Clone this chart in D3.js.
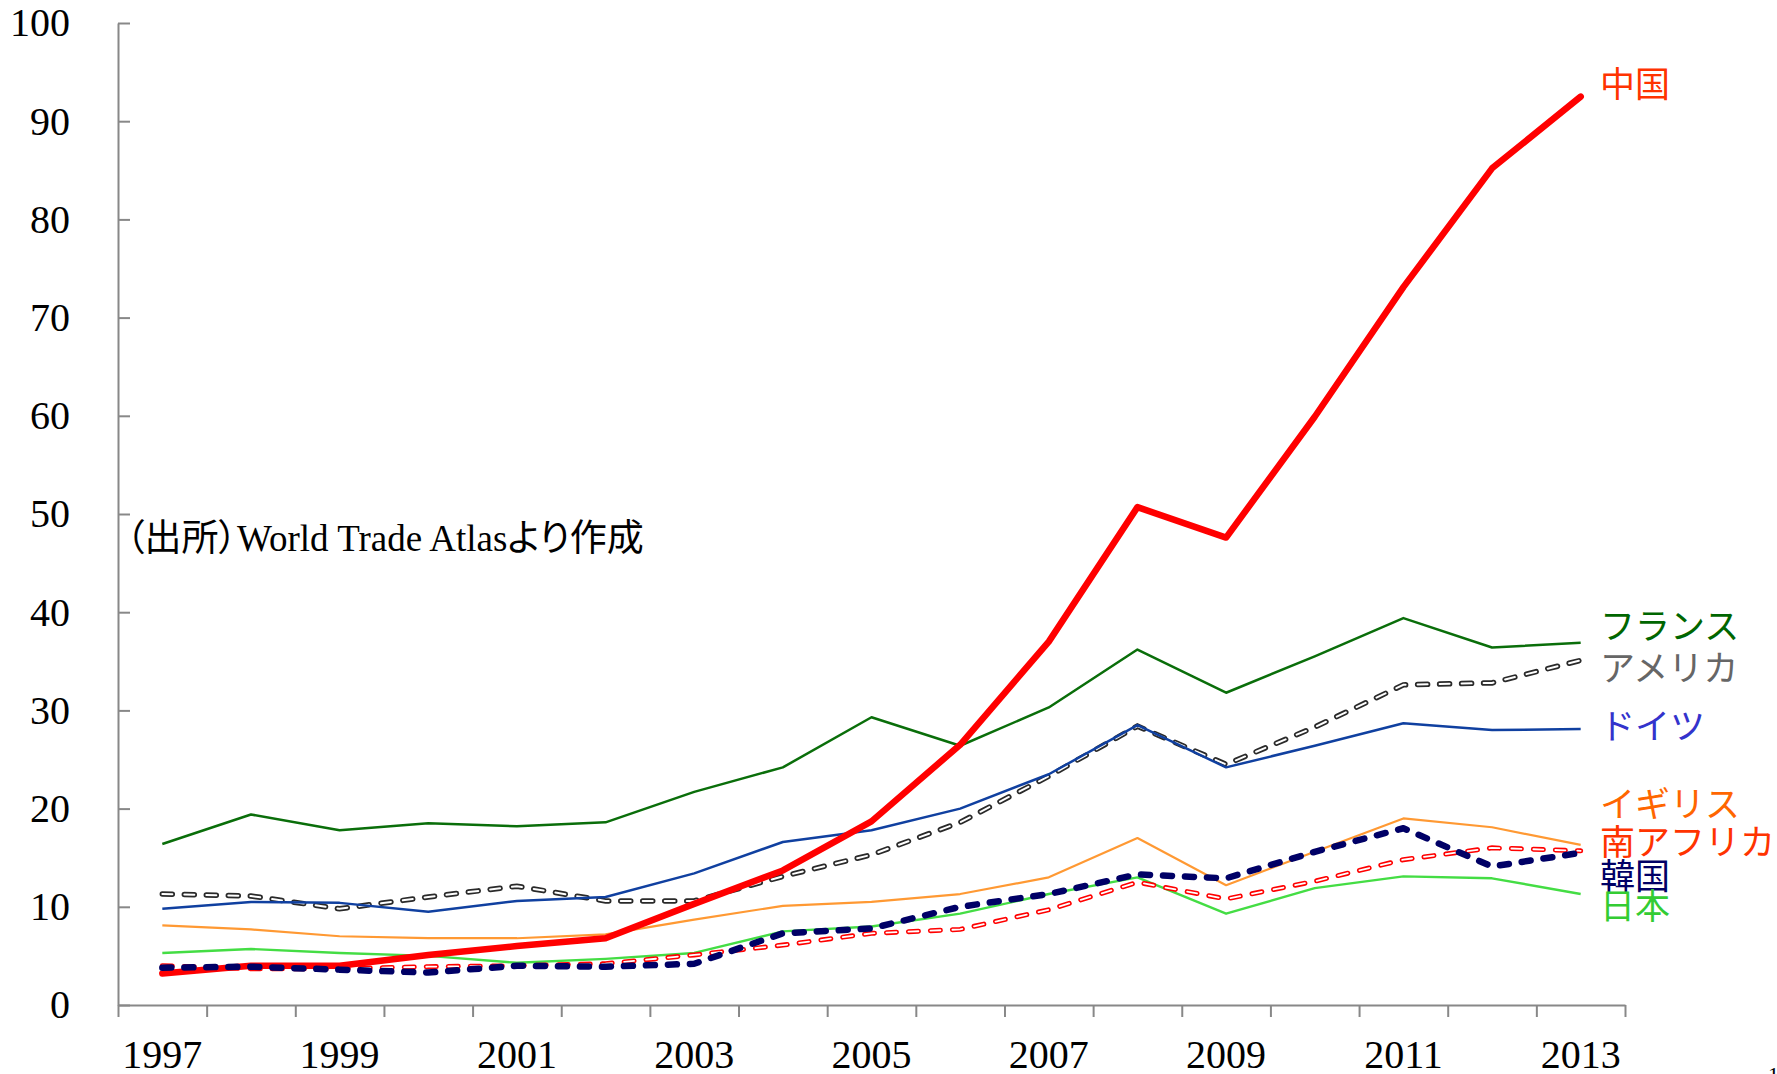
<!DOCTYPE html>
<html>
<head>
<meta charset="utf-8">
<script src="https://cdn.jsdelivr.net/npm/d3@7"></script>
<style>
  html, body { margin: 0; padding: 0; background: #fff; }
  svg { display: block; }
</style>
</head>
<body>
<div id="chart"></div>
<script>
const years = [1997, 1998, 1999, 2000, 2001, 2002, 2003, 2004, 2005, 2006, 2007, 2008, 2009, 2010, 2011, 2012, 2013];
const yearLabels = [1997, 1999, 2001, 2003, 2005, 2007, 2009, 2011, 2013];
const yTicks = [0, 10, 20, 30, 40, 50, 60, 70, 80, 90, 100];

const china   = [3.2, 4.0, 4.0, 5.1, 6.0, 6.8, 10.3, 13.7, 18.7, 26.5, 37.0, 50.7, 47.6, 59.9, 73.1, 85.2, 92.5];
const france  = [16.4, 19.4, 17.8, 18.5, 18.2, 18.6, 21.7, 24.2, 29.3, 26.4, 30.3, 36.2, 31.8, 35.5, 39.4, 36.4, 36.9];
const usa     = [11.3, 11.1, 9.8, 11.0, 12.1, 10.6, 10.6, 13.1, 15.3, 18.6, 23.3, 28.4, 24.5, 28.3, 32.6, 32.8, 35.1];
const germany = [9.8, 10.5, 10.4, 9.5, 10.6, 11.0, 13.4, 16.6, 17.8, 20.0, 23.5, 28.5, 24.2, 26.4, 28.7, 28.0, 28.1];
const uk      = [8.1, 7.7, 7.0, 6.8, 6.8, 7.2, 8.7, 10.1, 10.5, 11.3, 13.0, 17.0, 12.2, 15.6, 19.0, 18.1, 16.3];
const safrica = [4.0, 3.7, 3.7, 3.9, 4.0, 4.2, 5.1, 6.1, 7.3, 7.7, 9.7, 12.5, 10.8, 12.6, 14.8, 16.0, 15.7];
const korea   = [3.8, 3.9, 3.6, 3.3, 4.0, 3.9, 4.2, 7.3, 7.8, 10.0, 11.3, 13.3, 12.9, 15.6, 18.0, 14.1, 15.5];
const japan   = [5.3, 5.7, 5.3, 5.0, 4.3, 4.7, 5.3, 7.5, 8.0, 9.3, 11.3, 13.0, 9.3, 11.9, 13.1, 12.9, 11.3];

const labelNames  = ['中国', 'フランス', 'アメリカ', 'ドイツ', 'イギリス', '南アフリカ', '韓国', '日本'];
const labelValues = [93.7, 38.6, 34.3, 28.4, 20.4, 16.6, 13.1, 10.0];
const labelColors = ['#ff3300', '#006600', '#666666', '#3333cc', '#ff6600', '#ff3300', '#000066', '#33cc33'];

const sourceNote = '（出所）World Trade Atlasより作成';

const width = 1777, height = 1074;
const plotLeft = 118, plotRight = 1625, plotTop = 23, plotBottom = 1005;

const svg = d3.select('#chart')
  .append('svg')
  .attr('width', width)
  .attr('height', height);

const x = d3.scaleBand().domain(years).range([plotLeft, plotRight]);
const xEdge = d3.scaleLinear().domain([0, years.length]).range([plotLeft, plotRight]);
const y = d3.scaleLinear().domain([0, 100]).range([plotBottom, plotTop]);

// y axis, ticks pointing inward
const yAxis = svg.append('g')
  .attr('transform', `translate(${plotLeft},0)`)
  .call(d3.axisLeft(y).tickValues(yTicks).tickSize(-12).tickSizeOuter(0).tickPadding(48));
yAxis.select('.domain').attr('stroke', '#888').attr('stroke-width', 2);
yAxis.selectAll('.tick line').attr('stroke', '#888').attr('stroke-width', 2);
yAxis.selectAll('.tick text')
  .attr('font-family', '"Liberation Serif", serif')
  .attr('font-size', 40)
  .attr('fill', '#000');

// x axis: ticks between categories
const xTickAxis = svg.append('g')
  .attr('transform', `translate(0,${plotBottom})`)
  .call(d3.axisBottom(xEdge).tickValues(d3.range(years.length + 1)).tickSize(12).tickSizeOuter(0).tickFormat(''));
xTickAxis.select('.domain').attr('stroke', '#888').attr('stroke-width', 2);
xTickAxis.selectAll('.tick line').attr('stroke', '#888').attr('stroke-width', 2);

const xLabelAxis = svg.append('g')
  .attr('transform', `translate(0,${plotBottom})`)
  .call(d3.axisBottom(x).tickValues(yearLabels).tickSize(0).tickPadding(35));
xLabelAxis.select('.domain').remove();
xLabelAxis.selectAll('.tick text')
  .attr('font-family', '"Liberation Serif", serif')
  .attr('font-size', 40)
  .attr('fill', '#000');

const line = d3.line()
  .x((d, i) => x(years[i]) + x.bandwidth() / 2)
  .y(d => y(d));

const plain = (data, color, w) => {
  svg.append('path')
    .datum(data)
    .attr('d', line)
    .attr('fill', 'none')
    .attr('stroke', color)
    .attr('stroke-width', w)
    .attr('stroke-linejoin', 'round');
};

// dashed line drawn as an outline: coloured dash, white core
const hollow = (data, color, w, core, dash) => {
  svg.append('path')
    .datum(data)
    .attr('d', line)
    .attr('fill', 'none')
    .attr('stroke', color)
    .attr('stroke-width', w)
    .attr('stroke-dasharray', dash)
    .attr('stroke-linecap', 'round');
  svg.append('path')
    .datum(data)
    .attr('d', line)
    .attr('fill', 'none')
    .attr('stroke', '#fff')
    .attr('stroke-width', core)
    .attr('stroke-dasharray', dash)
    .attr('stroke-linecap', 'round');
};

plain(france, '#0a6e0a', 2.5);
hollow(usa, '#2a2a2a', 5.5, 2, '10 12');
plain(germany, '#1040a0', 2.5);
plain(uk, '#ff9933', 2.2);
plain(japan, '#44dd44', 2.4);
hollow(safrica, '#ff0000', 5, 1.8, '10 12');

svg.append('path')
  .datum(china)
  .attr('d', line)
  .attr('fill', 'none')
  .attr('stroke', '#ff0000')
  .attr('stroke-width', 6.5)
  .attr('stroke-linejoin', 'round')
  .attr('stroke-linecap', 'round');

svg.append('path')
  .datum(korea)
  .attr('d', line)
  .attr('fill', 'none')
  .attr('stroke', '#000066')
  .attr('stroke-width', 6.5)
  .attr('stroke-dasharray', '9 13')
  .attr('stroke-linecap', 'round')
  .attr('stroke-linejoin', 'round');

// series labels on the right
svg.selectAll('text.series')
  .data(labelNames)
  .enter()
  .append('text')
  .attr('class', 'series')
  .attr('x', 1600)
  .attr('y', (d, i) => y(labelValues[i]))
  .attr('dy', '0.36em')
  .attr('font-family', '"Noto Sans CJK JP", sans-serif')
  .attr('font-size', 35)
  .attr('fill', (d, i) => labelColors[i])
  .text(d => d);

svg.append('text')
  .attr('x', 126)
  .attr('y', 538)
  .attr('dy', '0.36em')
  .attr('font-family', '"Liberation Serif", "Noto Sans CJK JP", serif')
  .attr('font-size', 37)
  .style('font-feature-settings', '"palt"')
  .attr('fill', '#000')
  .text(sourceNote);

svg.append('text')
  .attr('x', 1768)
  .attr('y', 1082)
  .attr('font-family', '"Liberation Serif", serif')
  .attr('font-size', 22)
  .attr('fill', '#000')
  .text('1');
</script>
</body>
</html>
